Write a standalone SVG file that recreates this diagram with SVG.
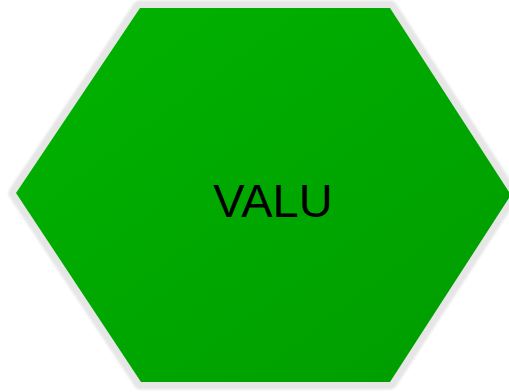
<svg xmlns="http://www.w3.org/2000/svg" width="509" height="392" viewBox="0 0 509 392">
<defs>
<linearGradient id="g" x1="0" y1="0" x2="1" y2="1">
<stop offset="0" stop-color="#00b300"/>
<stop offset="1" stop-color="#009c00"/>
</linearGradient>
<filter id="blur" x="-10%" y="-10%" width="120%" height="120%"><feGaussianBlur stdDeviation="1.2"/></filter>
<style>.lbl{font-family:"Liberation Sans",Arial,sans-serif;font-size:47px;fill:#000}</style>
</defs>
<rect width="509" height="392" fill="#ffffff"/>
<g id="valu">
<polygon points="140,8 390,8 511,195 390,382 141,382 16,193" fill="#e6e6e6" stroke="#e6e6e6" stroke-width="15" stroke-linejoin="round" filter="url(#blur)"/>
<polygon points="140,8 390,8 511,195 390,382 141,382 16,193" fill="url(#g)"/>
<text class="lbl" x="273" y="217" text-anchor="middle">VALU</text>
</g>
<g id="connectors"/>
</svg>
